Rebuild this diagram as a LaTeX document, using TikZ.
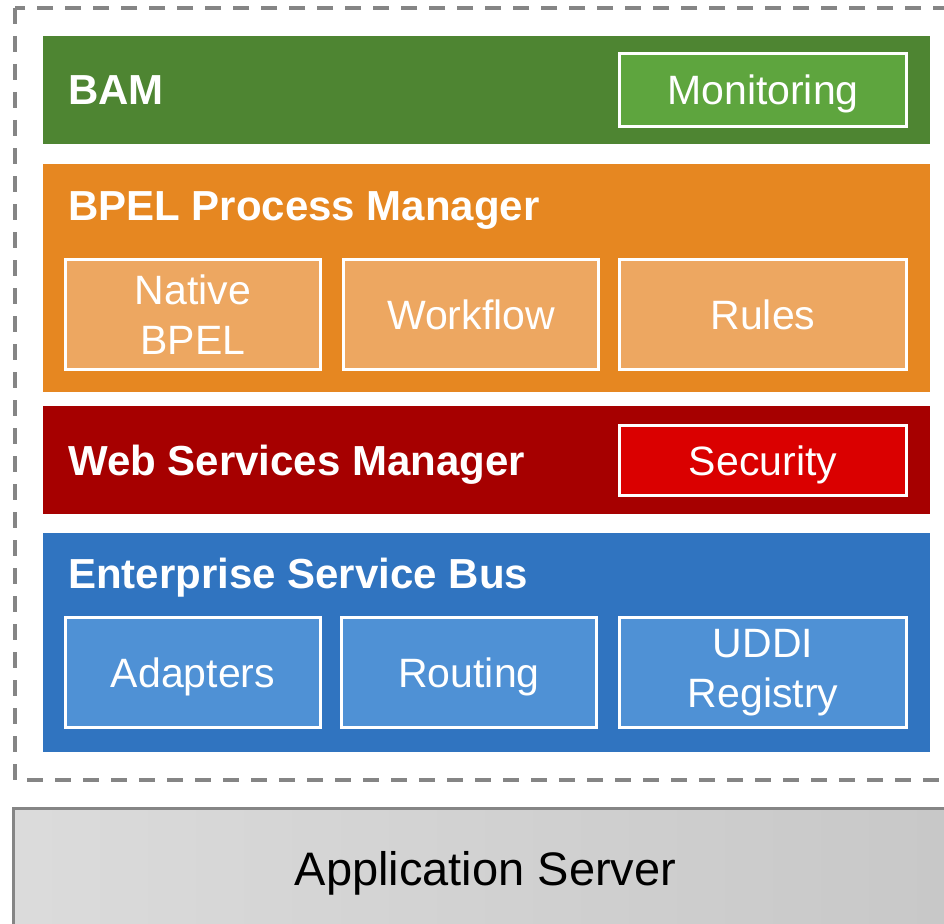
\documentclass[tikz,border=0pt]{standalone}
\usepackage{fontspec}
\setmainfont{Liberation Sans}
\usetikzlibrary{positioning}

\definecolor{bamdark}{HTML}{4E8532}
\definecolor{bamlight}{HTML}{5EA53E}
\definecolor{bpeldark}{HTML}{E68721}
\definecolor{bpellight}{HTML}{EDA761}
\definecolor{wsmdark}{HTML}{A60000}
\definecolor{wsmlight}{HTML}{DA0000}
\definecolor{esbdark}{HTML}{3074C0}
\definecolor{esblight}{HTML}{4F91D5}
\definecolor{framegray}{HTML}{858585}

\begin{document}
\begin{tikzpicture}[
  x=1pt, y=-1pt,
  layer/.style={rectangle, anchor=north west, minimum width=887pt, inner sep=0pt},
  comp/.style={rectangle, draw=white, line width=3pt, anchor=north west, minimum width=255pt,
    minimum height=110pt, inner sep=0pt, align=center, text=white, font=\fontsize{41}{50}\selectfont},
  oneline/.style={text height=29.5pt, text depth=0pt},
  wide/.style={minimum width=287pt},
  title/.style={anchor=base west, inner sep=0pt, text=white, font=\fontsize{42}{48}\selectfont\bfseries},
  frame/.style={draw=framegray, line width=3.5pt, dash pattern=on 16pt off 12pt},
  server/.style={rectangle, anchor=north west, draw=framegray, line width=3pt,
    left color=gray!28, right color=gray!44, minimum width=980pt, minimum height=160pt}
]
  \useasboundingbox (0,0) rectangle (944,923);
  \clip (0,0) rectangle (944,923);

  % outer dashed frame
  \draw[frame] (15,8) rectangle (970,780);

  % BAM
  \node[layer, fill=bamdark, minimum height=108pt] (bam) at (43,36) {};
  \node[title] (bamtitle) at (68,105) {BAM};
  \node[comp, wide, oneline, fill=bamlight, minimum height=73pt] (monitor) at (618,52) {Monitoring};

  % BPEL Process Manager
  \node[layer, fill=bpeldark, minimum height=228pt] (bpel) at (43,164) {};
  \node[title] (bpeltitle) at (68,220) {BPEL Process Manager};
  \node[comp, fill=bpellight] (native) at (64,258) {Native\\BPEL};
  \node[comp, oneline, fill=bpellight, right=20pt of native] (workflow) {Workflow};
  \node[comp, wide, oneline, fill=bpellight, right=18pt of workflow] (rules) {Rules};

  % Web Services Manager
  \node[layer, fill=wsmdark, minimum height=108pt] (wsm) at (43,406) {};
  \node[title] (wsmtitle) at (68,475) {Web Services Manager};
  \node[comp, wide, oneline, fill=wsmlight, minimum height=70pt] (security) at (618,424) {Security};

  % Enterprise Service Bus
  \node[layer, fill=esbdark, minimum height=219pt] (esb) at (43,533) {};
  \node[title] (esbtitle) at (68,588) {Enterprise Service Bus};
  \node[comp, oneline, fill=esblight] (adapters) at (64,616) {Adapters};
  \node[comp, oneline, fill=esblight, right=18pt of adapters] (routing) {Routing};
  \node[comp, wide, fill=esblight, right=20pt of routing] (uddi) {UDDI\\Registry};

  % Application Server
  \node[server] (appsrv) at (12,806.5) {};
  \node[anchor=base, inner sep=0pt, font=\fontsize{47}{52}\selectfont] (apptext) at (485.5,885) {Application Server};
\end{tikzpicture}
\end{document}
